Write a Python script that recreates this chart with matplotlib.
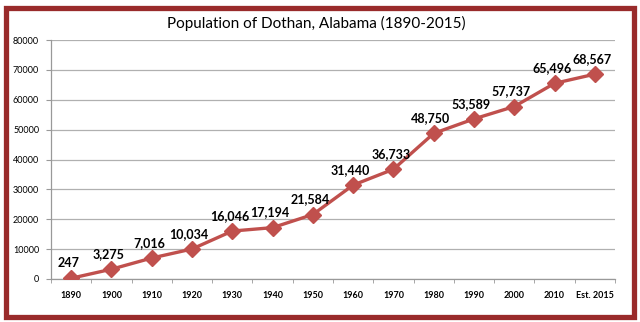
import matplotlib.pyplot as plt
from matplotlib.patches import Rectangle
from matplotlib.ticker import FixedLocator

years = ["1890", "1900", "1910", "1920", "1930", "1940", "1950",
         "1960", "1970", "1980", "1990", "2000", "2010", "Est. 2015"]
population = [247, 3275, 7016, 10034, 16046, 17194, 21584,
              31440, 36733, 48750, 53589, 57737, 65496, 68567]
y_ticks = [0, 10000, 20000, 30000, 40000, 50000, 60000, 70000, 80000]

plt.rcParams["font.family"] = ["Lato", "DejaVu Sans"]

W, H = 640, 322
fig = plt.figure(figsize=(W / 100, H / 100), dpi=100)

# dark red frame around the chart
frame = Rectangle((5.5 / W, 5.5 / H), 628 / W, 309 / H, transform=fig.transFigure,
                  fill=False, edgecolor="#992b2b", linewidth=3.8, zorder=10)
fig.patches.append(frame)

ax = fig.add_axes([51 / W, (H - 279) / H, 564 / W, 239 / H])
x = list(range(len(years)))

ax.plot(x, population, color="#c0504d", linewidth=2.4, marker="D",
        markersize=8, markerfacecolor="#c0504d", markeredgecolor="#c0504d", zorder=3)

for xi, val in zip(x, population):
    ax.annotate(f"{val:,}", (xi, val), xytext=(-2, 11), textcoords="offset points",
                ha="center", va="center", fontsize=9, fontweight="bold", color="black")

ax.set_xlim(-0.5, len(years) - 0.5)
ax.set_ylim(0, 80000)
ax.set_yticks(y_ticks)
ax.set_yticklabels([str(v) for v in y_ticks], fontsize=6.5)
ax.set_xticks(x)
ax.set_xticklabels(years, fontsize=6.5, fontweight="bold")
ax.xaxis.set_minor_locator(FixedLocator([i - 0.5 for i in range(len(years) + 1)]))

ax.tick_params(axis="x", which="major", length=0, pad=9)
ax.tick_params(axis="x", which="minor", length=3, color="#999999", direction="out")
ax.tick_params(axis="y", length=3.5, color="#999999", pad=5)

ax.grid(axis="y", color="#b0b0b0", linewidth=0.9)
ax.set_axisbelow(True)
for side in ("top", "right"):
    ax.spines[side].set_visible(False)
for side in ("left", "bottom"):
    ax.spines[side].set_color("#999999")
    ax.spines[side].set_linewidth(0.9)

fig.text(0.495, (H - 23) / H, "Population of Dothan, Alabama (1890-2015)",
         ha="center", va="center", fontsize=11, color="black")

fig.savefig("out.png", dpi=100)
